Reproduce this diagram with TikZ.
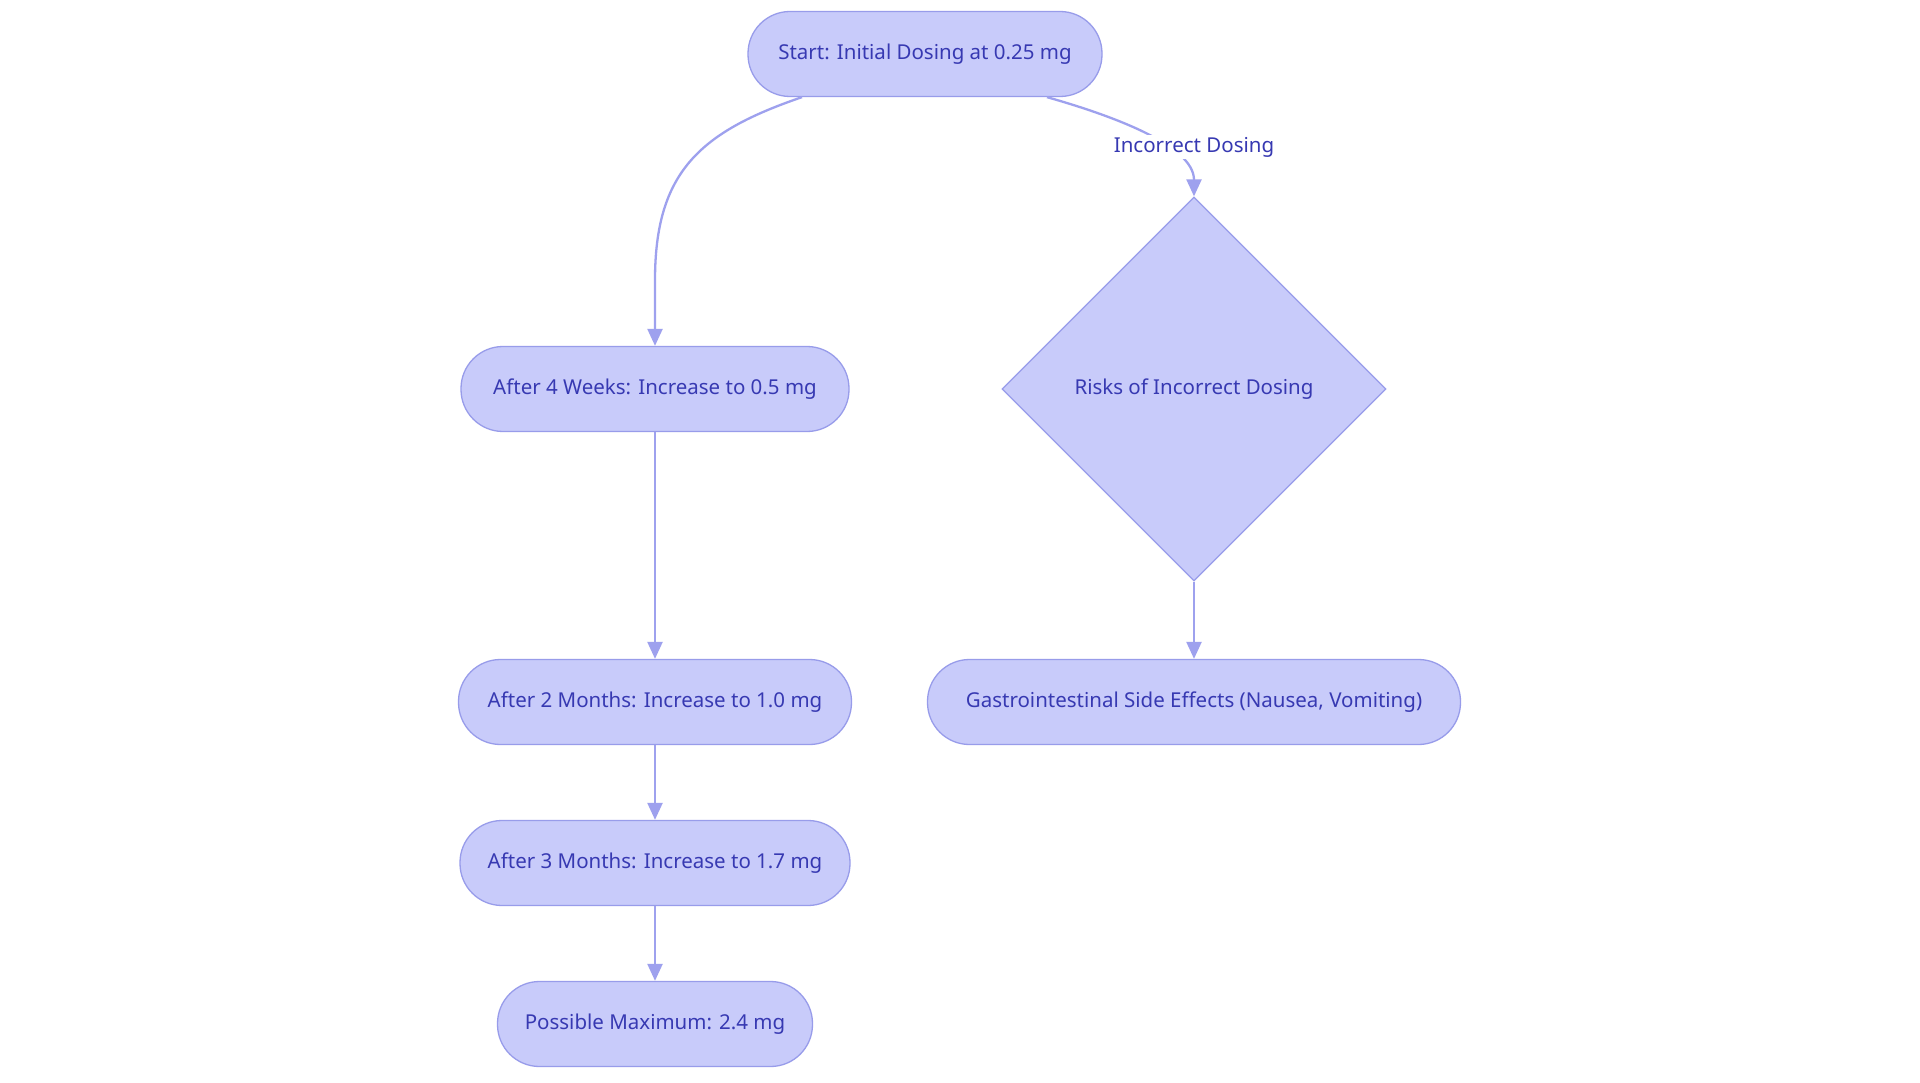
\documentclass[tikz,border=0pt]{standalone}
\usepackage{fontspec}
\setmainfont{Noto Sans}
\usetikzlibrary{shapes.geometric,arrows.meta,calc}
\definecolor{nodefill}{RGB}{200,203,250}
\definecolor{nodeline}{RGB}{152,156,234}
\definecolor{txt}{RGB}{55,57,178}
\definecolor{edge}{RGB}{158,161,238}
\begin{document}
\begin{tikzpicture}[x=1pt,y=-1pt,
  pill/.style={draw=nodeline,fill=nodefill,line width=1.3pt,rounded corners=42pt,minimum height=85pt,text=txt,font=\fontsize{20.5}{24}\selectfont,inner sep=0pt},
  dia/.style={draw=nodeline,fill=nodefill,line width=1.3pt,shape=diamond,aspect=1,minimum width=384pt,minimum height=384pt,text=txt,font=\fontsize{20.5}{24}\selectfont,inner sep=0pt},
  conn/.style={draw=edge,line width=2.3pt,-{Triangle[length=17pt,width=15pt]}},
  lbl/.style={fill=white,text=txt,font=\fontsize{20.5}{24}\selectfont,inner sep=2pt}]
\fill[white] (0,0) rectangle (1920,1083);
\useasboundingbox (0,0) rectangle (1920,1083);
\node[pill,minimum width=354pt] (start) at (925,54) {Start: Initial Dosing at 0.25 mg};
\node[pill,minimum width=388pt] (w4) at (655,389) {After 4 Weeks: Increase to 0.5 mg};
\node[dia] (risk) at (1194,389) {Risks of Incorrect Dosing};
\node[pill,minimum width=393pt] (m2) at (655,702) {After 2 Months: Increase to 1.0 mg};
\node[pill,minimum width=533pt] (gi) at (1194,702) {Gastrointestinal Side Effects (Nausea, Vomiting)};
\node[pill,minimum width=390pt] (m3) at (655,863) {After 3 Months: Increase to 1.7 mg};
\node[pill,minimum width=315pt] (max) at (655,1024) {Possible Maximum: 2.4 mg};
\coordinate (sL) at ($(start.south)+(-123,0)$);
\coordinate (sR) at ($(start.south)+(122,0)$);
\draw[conn] (sL) .. controls (700,132) and (655,172) .. (655,280) -- (w4.north);
\draw[conn] (sR) .. controls (1110,115) and (1194,145) .. (risk.north);
\node[lbl] (lab) at (1194,147) {Incorrect Dosing};
\draw[conn] (w4.south) -- (m2.north);
\draw[conn] (m2.south) -- (m3.north);
\draw[conn] (m3.south) -- (max.north);
\draw[conn] (risk.south) -- (gi.north);
\end{tikzpicture}
\end{document}
